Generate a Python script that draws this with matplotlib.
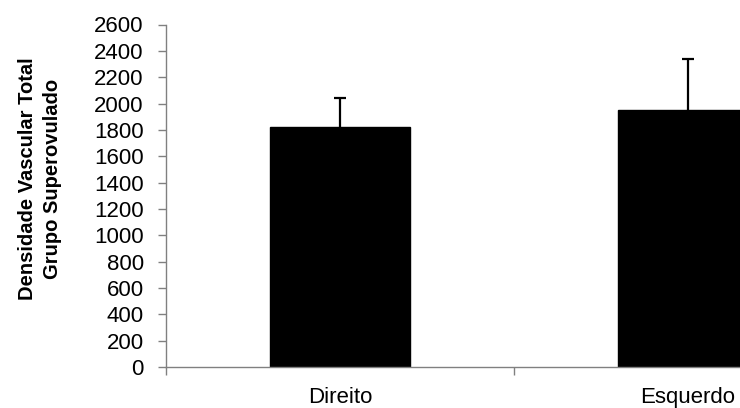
import numpy as np
import matplotlib
matplotlib.use('Agg')
import matplotlib.pyplot as plt

plt.rcParams['font.family'] = ['Liberation Sans', 'DejaVu Sans']

# data
categories = ['Direito', 'Esquerdo']
means = [1820, 1950]
errors_up = [220, 385]
y_ticks = list(range(0, 2601, 200))

fig = plt.figure(figsize=(7.4, 4.08), dpi=100)
# plot area runs past the right edge of the figure, as in the reference
ax = fig.add_axes([166 / 740, 41 / 408, 696 / 740, 342.5 / 408])

x = np.arange(len(categories))
ax.bar(x, means, width=0.405, color='black', edgecolor='black', zorder=2)
eb = ax.errorbar(x, means, yerr=[np.zeros(len(errors_up)), errors_up], fmt='none',
                 ecolor='black', elinewidth=1.6, capsize=4, capthick=1.6, zorder=3)
# upper error only: hide the lower cap
eb[1][0].set_visible(False)

ax.set_xlim(-0.5, 1.5)
ax.set_ylim(0, 2600)
ax.set_yticks(y_ticks)
ax.set_xticks(x)
ax.set_xticklabels(categories)
ax.set_xticks([-0.5, 0.5, 1.5], minor=True)

for side in ['top', 'right']:
    ax.spines[side].set_visible(False)
for side in ['left', 'bottom']:
    ax.spines[side].set_color('#808080')
    ax.spines[side].set_linewidth(1.0)

ax.tick_params(axis='y', direction='out', length=6, width=1, color='#808080',
               labelsize=16, pad=10)
ax.tick_params(axis='x', which='major', length=0, labelsize=16, pad=14.5)
ax.tick_params(axis='x', which='minor', direction='out', length=6, width=1,
               color='#808080')

fig.text(40 / 740, 1 - 179 / 408, 'Densidade Vascular Total\nGrupo Superovulado',
         rotation=90, ha='center', va='center', fontsize=14.5, fontweight='bold',
         linespacing=1.45, multialignment='center')

fig.savefig('out.png', dpi=100)
